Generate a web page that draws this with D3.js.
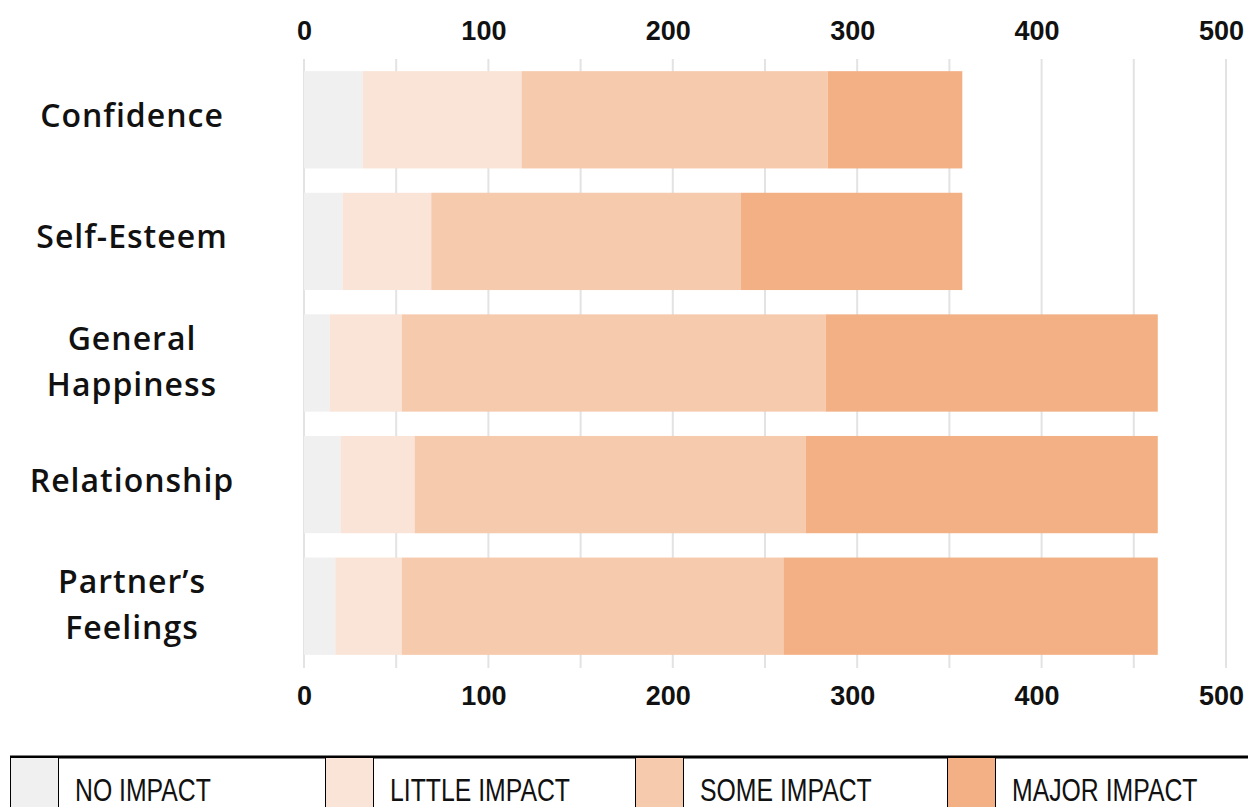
<!DOCTYPE html>
<html>
<head>
<meta charset="utf-8">
<script src="https://cdn.jsdelivr.net/npm/d3@7"></script>
<style>
  html, body { margin: 0; padding: 0; background: #fff; overflow: hidden; }
  svg { display: block; }
</style>
</head>
<body>
<svg id="chart" width="1248" height="807"></svg>
<script>
// Survey categories and the four impact levels (stacked left to right)
const categories = ["Confidence", "Self-Esteem", "General Happiness", "Relationship", "Partner\u2019s Feelings"];
const categoryLines = [["Confidence"], ["Self-Esteem"], ["General", "Happiness"], ["Relationship"], ["Partner\u2019s", "Feelings"]];
const levels = ["NO IMPACT", "LITTLE IMPACT", "SOME IMPACT", "MAJOR IMPACT"];
const noImpact     = [32, 21, 14, 20, 17];
const littleImpact = [86, 48, 39, 40, 36];
const someImpact   = [166, 168, 230, 212, 207];
const majorImpact  = [73, 120, 180, 191, 203];
const tickValues = [0, 100, 200, 300, 400, 500];
const gridValues = d3.range(0, 501, 50);
const colors = ["#f0f0f0", "#f9e4d7", "#f6caad", "#f2b084"];

const series = [noImpact, littleImpact, someImpact, majorImpact];
const rows = categories.map((c, i) => {
  const r = { category: c };
  levels.forEach((l, k) => { r[l] = series[k][i]; });
  return r;
});
const stacked = d3.stack().keys(levels)(rows);

const svg = d3.select("#chart");
const x = d3.scaleLinear().domain([0, 500]).range([304, 1226]);
const y = d3.scaleBand().domain(categories).range([59, 667]).paddingInner(0.2).paddingOuter(0.1);

// vertical gridlines every 50
svg.append("g").selectAll("line").data(gridValues).join("line")
  .attr("x1", d => x(d)).attr("x2", d => x(d))
  .attr("y1", 59).attr("y2", 668)
  .attr("stroke", "#e3e3e3").attr("stroke-width", 2);

// stacked bars
svg.append("g").selectAll("g").data(stacked).join("g")
  .attr("fill", (d, i) => colors[i])
  .selectAll("rect").data(d => d).join("rect")
  .attr("x", d => x(d[0]))
  .attr("width", d => x(d[1]) - x(d[0]))
  .attr("y", d => y(d.data.category))
  .attr("height", y.bandwidth());

// axes top and bottom (labels only)
const axisFont = "'Liberation Sans', Arial, sans-serif";
function styleAxis(g) {
  g.select(".domain").remove();
  g.selectAll(".tick line").remove();
  g.selectAll(".tick text")
    .attr("font-family", axisFont)
    .attr("font-weight", "bold")
    .attr("font-size", 27)
    .attr("fill", "#111")
    .attr("dx", d => d === 0 ? 0 : -5)
    .attr("dy", 0);
}
svg.append("g").attr("transform", "translate(0,39.5)")
  .call(d3.axisBottom(x).tickValues(tickValues).tickSize(0).tickPadding(0).tickFormat(d3.format("d")))
  .call(styleAxis);
svg.append("g").attr("transform", "translate(0,705)")
  .call(d3.axisBottom(x).tickValues(tickValues).tickSize(0).tickPadding(0).tickFormat(d3.format("d")))
  .call(styleAxis);

// category labels
const catG = svg.append("g");
categories.forEach((c, i) => {
  const lines = categoryLines[i];
  const cy = y(c) + y.bandwidth() / 2;
  const lh = 46;
  const t = catG.append("text")
    .attr("text-anchor", "middle")
    .attr("font-family", "'Open Sans', 'Noto Sans', sans-serif")
    .attr("font-weight", 600)
    .attr("font-size", 32)
    .attr("letter-spacing", 1)
    .attr("fill", "#111");
  lines.forEach((ln, j) => {
    t.append("tspan")
      .attr("x", 132)
      .attr("y", cy + (j - (lines.length - 1) / 2) * lh)
      .attr("dy", lines.length > 1 ? "0.32em" : "0.22em")
      .text(ln);
  });
});

// legend table along the bottom
const legend = svg.append("g");
const cellX = [10, 325, 635, 947];
const swW = 48;
legend.append("line").attr("x1", 10).attr("x2", 1248).attr("y1", 757).attr("y2", 757)
  .attr("stroke", "#000").attr("stroke-width", 3);
levels.forEach((l, i) => {
  const x0 = cellX[i];
  legend.append("rect").attr("x", x0).attr("y", 758).attr("width", swW).attr("height", 60)
    .attr("fill", colors[i]);
  [x0, x0 + swW].forEach(xx => {
    legend.append("line").attr("x1", xx + 0.5).attr("x2", xx + 0.5).attr("y1", 757).attr("y2", 807)
      .attr("stroke", "#000").attr("stroke-width", 1);
  });
  legend.append("text")
    .attr("transform", `translate(${x0 + swW + 17},801) scale(0.8,1)`)
    .attr("font-family", axisFont)
    .attr("font-size", 31)
    .attr("fill", "#111")
    .text(l);
});
</script>
</body>
</html>
